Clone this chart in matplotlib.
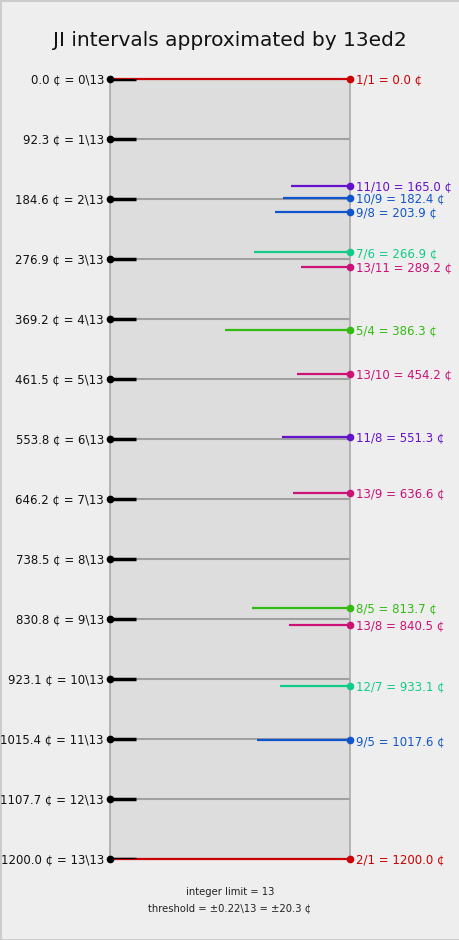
import matplotlib
matplotlib.use('Agg')
import matplotlib.pyplot as plt

# 13ed2 steps (cents)
step_nums = [0, 1, 2, 3, 4, 5, 6, 7, 8, 9, 10, 11, 12, 13]
step_cents = [0.0, 92.3, 184.6, 276.9, 369.2, 461.5, 553.8, 646.2, 738.5, 830.8,
              923.1, 1015.4, 1107.7, 1200.0]

# JI intervals found within the threshold
ji_ratios = ['1/1', '11/10', '10/9', '9/8', '7/6', '13/11', '5/4', '13/10', '11/8',
             '13/9', '8/5', '13/8', '12/7', '9/5', '2/1']
ji_cents = [0.0, 165.0, 182.4, 203.9, 266.9, 289.2, 386.3, 454.2, 551.3,
            636.6, 813.7, 840.5, 933.1, 1017.6, 1200.0]
ji_odd_limit = [1, 11, 9, 9, 7, 13, 5, 13, 11, 13, 5, 13, 7, 9, 1]
# relative weight of each interval (length of its line, as fraction of the panel)
ji_weight = [1.0, 0.246, 0.279, 0.314, 0.40, 0.204, 0.52, 0.22, 0.283,
             0.237, 0.408, 0.255, 0.29, 0.389, 1.0]

limit_colors = {1: '#cc0000', 5: '#33bb11', 7: '#11cc88', 9: '#1155cc',
                11: '#6611cc', 13: '#cc1177'}

fig = plt.figure(figsize=(4.6, 9.4), dpi=100, facecolor='#eeeeee',
                 edgecolor='#cccccc', linewidth=2)
ax = fig.add_axes([110 / 460, 1 - 859 / 940, 240 / 460, 780 / 940])
ax.set_facecolor('#dddddd')
ax.set_xlim(0, 1)
ax.set_ylim(1200, 0)

for s in ['top', 'bottom']:
    ax.spines[s].set_visible(False)
for s in ['left', 'right']:
    ax.spines[s].set_color('#aaaaaa')
    ax.spines[s].set_linewidth(1.2)
ax.set_xticks([])
ax.set_yticks([])

# edo steps
for n, c in zip(step_nums, step_cents):
    ax.plot([0, 1], [c, c], color='#a0a0a0', linewidth=1.5, zorder=2)
    ax.plot([0, 0.108], [c, c], color='black', linewidth=2.5, zorder=4,
            solid_capstyle='butt')
    ax.plot([0], [c], 'o', color='black', markersize=4.5, clip_on=False, zorder=6)
    ax.text(-0.025, c + 1, '%.1f ¢ = %d\\13' % (c, n), ha='right', va='center',
            fontsize=8.5, color='#111111')

# JI intervals
for r, c, lim, w in zip(ji_ratios, ji_cents, ji_odd_limit, ji_weight):
    col = limit_colors[lim]
    ax.plot([1 - w, 1], [c, c], color=col, linewidth=1.6, zorder=3,
            solid_capstyle='butt', clip_on=False)
    ax.plot([1], [c], 'o', color=col, markersize=4.5, clip_on=False, zorder=6)
    ax.text(1.025, c + 1, '%s = %.1f ¢' % (r, c), ha='left', va='center',
            fontsize=8.5, color=col)

fig.text(0.5, 1 - 41 / 940, 'JI intervals approximated by 13ed2', ha='center',
         va='center', fontsize=14.5, color='#111111')
fig.text(230 / 460, 1 - 892 / 940, 'integer limit = 13', ha='center', va='center',
         fontsize=7.2, color='#222222')
fig.text(230 / 460, 1 - 908 / 940, 'threshold = ±0.22\\13 = ±20.3 ¢', ha='center',
         va='center', fontsize=7.2, color='#222222')

fig.savefig('out.png', dpi=100, facecolor=fig.get_facecolor(),
            edgecolor=fig.get_edgecolor())
